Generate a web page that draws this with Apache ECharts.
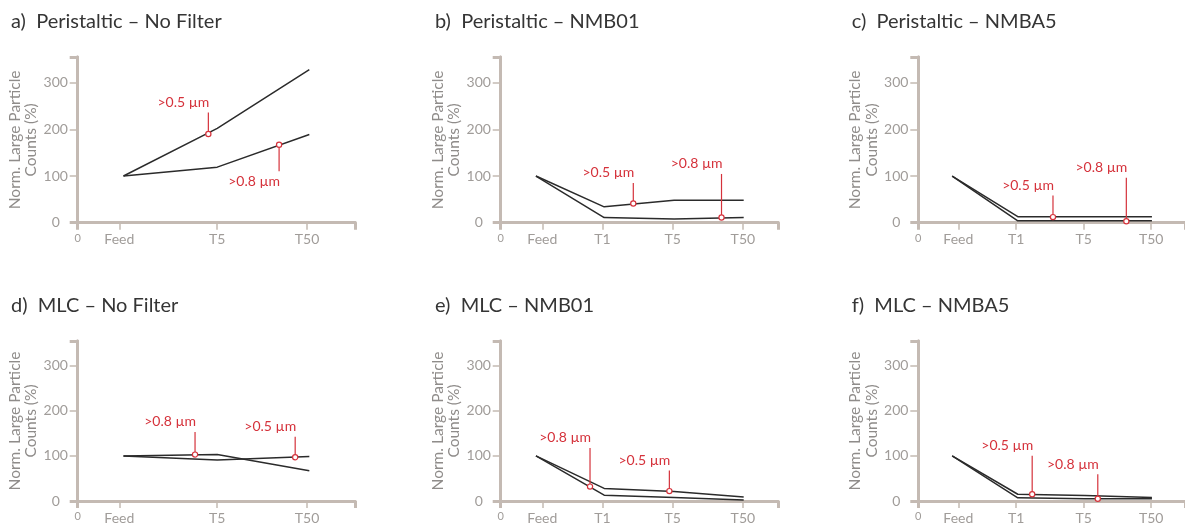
<!DOCTYPE html>
<html><head><meta charset="utf-8">
<script src="https://cdn.jsdelivr.net/npm/echarts@6/dist/echarts.min.js"></script>
<style>html,body{margin:0;padding:0;background:#fff}#c{width:1185px;height:525px}</style>
</head><body><div id="c"></div>
<script>
// ---------- data ----------
const panelTitles = ['a)  Peristaltic – No Filter', 'b)  Peristaltic – NMB01', 'c)  Peristaltic – NMBA5',
                     'd)  MLC – No Filter', 'e)  MLC – NMB01', 'f)  MLC – NMBA5'];
const sizeClasses = ['>0.5 µm', '>0.8 µm'];
const yAxisName = 'Norm. Large Particle\nCounts (%)';
const cats3 = ['Feed', 'T5', 'T50'];
const cats4 = ['Feed', 'T1', 'T5', 'T50'];
const catPos3 = [15, 50.3, 82.7];          // category positions on the 0–100 sampling axis
const catPos4 = [15, 36.7, 62, 87.3];
const xPts3 = [16.5, 50.3, 83.5];          // sample positions of the measured points
const xPts4 = [12.7, 37.3, 62.5, 87.6];
const yTickValues = [0, 100, 200, 300];
const yMax = 355;
const xMax = 100;

// series values (Norm. counts, %)
const a05 = [100, 202, 328], a08 = [100, 119, 189];
const b05 = [100, 34, 48, 48], b08 = [100, 11, 8, 11];
const c05 = [100, 13, 13, 13], c08 = [100, 4, 4, 4];
const d05 = [100, 91, 99],    d08 = [100, 103, 67];
const e05 = [100, 28, 21, 9], e08 = [100, 13, 8, 2];
const f05 = [100, 15, 12, 8], f08 = [100, 7, 5, 5];

// annotation markers: [x, y, sizeClassIndex]
const annA = [[47.1, 190, 0], [72.6, 167, 1]];
const annB = [[47.8, 41, 0], [79.6, 11, 1]];
const annC = [[50.5, 12, 0], [78.0, 3, 1]];
const annD = [[42.3, 103, 1], [78.4, 97, 0]];
const annE = [[32.2, 32, 1], [60.8, 22, 0]];
const annF = [[42.7, 15, 0], [67.3, 5, 1]];

// ---------- layout & style ----------
const panels = [
  {cats: cats3, pos: catPos3, xs: xPts3, s05: a05, s08: a08, ann: annA},
  {cats: cats4, pos: catPos4, xs: xPts4, s05: b05, s08: b08, ann: annB},
  {cats: cats4, pos: catPos4, xs: xPts4, s05: c05, s08: c08, ann: annC},
  {cats: cats3, pos: catPos3, xs: xPts3, s05: d05, s08: d08, ann: annD},
  {cats: cats4, pos: catPos4, xs: xPts4, s05: e05, s08: e08, ann: annE},
  {cats: cats4, pos: catPos4, xs: xPts4, s05: f05, s08: f08, ann: annF}
];
const gridLefts = [77.7, 500.7, 918.3];
const gridTops = [57, 341];
const titleLefts = [11, 435, 851.7];
const titleTops = [12, 295.3];
const gridW = 277.4, gridH = 165.7;
// leader lines: direction (-1 up, +1 down) and length in px
const leaders = [
  [{d: -1, l: 19}, {d: 1, l: 24}],
  [{d: -1, l: 18}, {d: -1, l: 41}],
  [{d: -1, l: 19}, {d: -1, l: 41}],
  [{d: -1, l: 20}, {d: -1, l: 18}],
  [{d: -1, l: 36}, {d: -1, l: 18}],
  [{d: -1, l: 36}, {d: -1, l: 22}]
];
const FONT = 'Lato';
const frameColor = '#c4bab3';
const frameW = 3;
const labelColor = '#a09c99';
const nameColor = '#8f8c8a';
const lineColor = '#2b2b2b';
const red = '#d5323b';

const title = [], grid = [], xAxis = [], yAxis = [], series = [];

panels.forEach((p, i) => {
  const col = i % 3, row = Math.floor(i / 3);
  title.push({
    text: panelTitles[i], left: titleLefts[col], top: titleTops[row], padding: 0,
    textStyle: {fontFamily: FONT, fontSize: 20, fontWeight: 'normal', color: '#353535'}
  });
  grid.push({left: gridLefts[col], top: gridTops[row], width: gridW, height: gridH, containLabel: false});
  const xb = xAxis.length, yb = yAxis.length;
  // main bottom axis
  xAxis.push({
    type: 'value', gridIndex: i, min: 0, max: xMax, position: 'bottom',
    splitLine: {show: false},
    axisLine: {show: true, lineStyle: {color: frameColor, width: frameW}},
    axisTick: {show: true, customValues: p.pos, length: 7, lineStyle: {color: frameColor, width: 1.5}},
    axisLabel: {
      show: true, customValues: [0].concat(p.pos), margin: 10,
      fontFamily: FONT, fontSize: 14, color: labelColor,
      formatter: v => {
        if (Math.abs(v) < 1e-6) return '{z|0}';
        const k = p.pos.findIndex(q => Math.abs(q - v) < 1e-6);
        return k >= 0 ? p.cats[k] : '';
      },
      rich: {z: {fontFamily: FONT, fontSize: 11, color: labelColor}}
    }
  });
  // thick end ticks (frame overshoot)
  xAxis.push({
    type: 'value', gridIndex: i, min: 0, max: xMax, position: 'bottom',
    splitLine: {show: false}, axisLine: {show: false}, axisLabel: {show: false},
    axisTick: {show: true, customValues: [0, xMax], length: 7, lineStyle: {color: frameColor, width: frameW}}
  });
  // top frame
  xAxis.push({
    type: 'value', gridIndex: i, min: 0, max: xMax, position: 'top',
    splitLine: {show: false}, axisTick: {show: false}, axisLabel: {show: false},
    axisLine: {show: true, lineStyle: {color: frameColor, width: frameW}}
  });
  // left main axis
  yAxis.push({
    type: 'value', gridIndex: i, min: 0, max: yMax, position: 'left',
    splitLine: {show: false},
    name: yAxisName, nameLocation: 'middle', nameRotate: 90, nameGap: 36,
    nameTextStyle: {fontFamily: FONT, fontSize: 15.5, color: nameColor, lineHeight: 16.6, align: 'center'},
    axisLine: {show: true, lineStyle: {color: frameColor, width: frameW}},
    axisTick: {show: true, customValues: [100, 200, 300], length: 8, lineStyle: {color: frameColor, width: 1.5}},
    axisLabel: {show: true, customValues: yTickValues, margin: 22, align: 'center',
      fontFamily: FONT, fontSize: 14, color: labelColor}
  });
  yAxis.push({
    type: 'value', gridIndex: i, min: 0, max: yMax, position: 'left',
    splitLine: {show: false}, axisLine: {show: false}, axisLabel: {show: false},
    axisTick: {show: true, customValues: [0, yMax], length: 8, lineStyle: {color: frameColor, width: frameW}}
  });
  yAxis.push({
    type: 'value', gridIndex: i, min: 0, max: yMax, position: 'right',
    splitLine: {show: false}, axisTick: {show: false}, axisLabel: {show: false},
    axisLine: {show: true, lineStyle: {color: frameColor, width: frameW}}
  });

  [p.s05, p.s08].forEach((vals, si) => {
    series.push({
      type: 'line', name: sizeClasses[si], xAxisIndex: xb, yAxisIndex: yb,
      data: vals.map((v, j) => [p.xs[j], v]),
      symbol: 'none', lineStyle: {color: lineColor, width: 1.5}, z: 3, silent: true
    });
  });

  series.push({
    type: 'custom', xAxisIndex: xb, yAxisIndex: yb, z: 5, silent: true, clip: false,
    data: p.ann,
    renderItem: (params, api) => {
      const pt = api.coord([api.value(0), api.value(1)]);
      const txt = sizeClasses[api.value(2)];
      const ld = leaders[i][params.dataIndex];
      const r = 2.6;
      const y0 = pt[1] + ld.d * r;
      const y1 = y0 + ld.d * ld.l;
      return {
        type: 'group', children: [
          {type: 'line', shape: {x1: pt[0], y1: y0, x2: pt[0], y2: y1}, style: {stroke: red, lineWidth: 1.2}},
          {type: 'circle', shape: {cx: pt[0], cy: pt[1], r: r}, style: {fill: '#fff', stroke: red, lineWidth: 1.2}},
          {type: 'text', x: pt[0] + 1, y: y1 + ld.d * 3,
           style: {text: txt, fill: red, font: '14px ' + FONT, align: 'right',
                   verticalAlign: ld.d < 0 ? 'bottom' : 'top'}}
        ]
      };
    }
  });
});

const chart = echarts.init(document.getElementById('c'), null, {renderer: 'canvas'});
chart.setOption({animation: false, backgroundColor: '#fff', title, grid, xAxis, yAxis, series});
</script></body></html>
